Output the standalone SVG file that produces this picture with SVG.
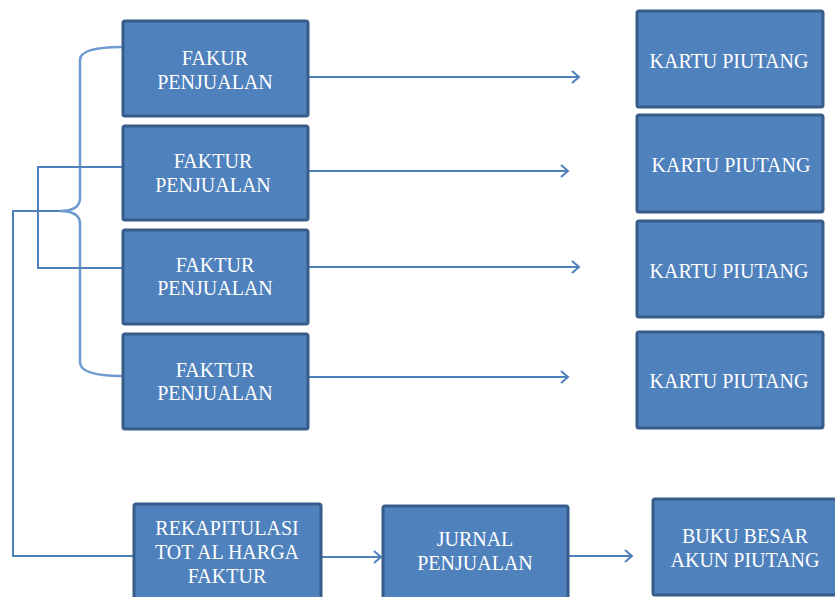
<svg xmlns="http://www.w3.org/2000/svg" width="835" height="597" viewBox="0 0 835 597">
<style>
.box{fill:#4f81bd;stroke:#385d8a;stroke-width:3}
.t{fill:#ffffff;font-family:"Liberation Serif","DejaVu Serif",serif;font-size:20px;text-anchor:middle}
.ln{fill:none;stroke:#4f81bd;stroke-width:2}
.br{fill:none;stroke:#6d9bd1;stroke-width:2.5}
</style>
<defs>
<marker id="ah" markerWidth="12" markerHeight="14" refX="10" refY="7" orient="auto" markerUnits="userSpaceOnUse">
<path d="M3,1 L10,7 L3,13" fill="none" stroke="#4f81bd" stroke-width="2"/>
</marker>
</defs>
<g id="connectors">
<path class="br" d="M122,47 Q80,47 80,60 L80,198 Q80,211 60,211 Q80,211 80,224 L80,362 Q80,376 122,376"/>
<path class="ln" d="M60,211 L13,211 L13,556 L133,556"/>
<path class="ln" d="M122,167 L38,167 L38,268 L122,268"/>
<line class="ln" x1="309" y1="77" x2="579" y2="77" marker-end="url(#ah)"/>
<line class="ln" x1="309" y1="171" x2="568" y2="171" marker-end="url(#ah)"/>
<line class="ln" x1="309" y1="267" x2="579" y2="267" marker-end="url(#ah)"/>
<line class="ln" x1="309" y1="377" x2="568" y2="377" marker-end="url(#ah)"/>
<line class="ln" x1="322" y1="557" x2="381" y2="557" marker-end="url(#ah)"/>
<line class="ln" x1="569" y1="556" x2="632" y2="556" marker-end="url(#ah)"/>
</g>
<g id="fp1"><rect class="box" x="123" y="21" width="185" height="95" rx="2"/><text class="t" x="215" y="65">FAKUR</text><text class="t" x="215" y="89">PENJUALAN</text></g>
<g id="fp2"><rect class="box" x="123" y="126" width="185" height="94" rx="2"/><text class="t" x="213" y="168">FAKTUR</text><text class="t" x="213" y="192">PENJUALAN</text></g>
<g id="fp3"><rect class="box" x="123" y="230" width="185" height="94" rx="2"/><text class="t" x="215" y="272">FAKTUR</text><text class="t" x="215" y="295">PENJUALAN</text></g>
<g id="fp4"><rect class="box" x="123" y="334" width="185" height="95" rx="2"/><text class="t" x="215" y="377">FAKTUR</text><text class="t" x="215" y="400">PENJUALAN</text></g>
<g id="kp1"><rect class="box" x="637" y="11" width="186" height="96" rx="2"/><text class="t" x="729" y="68">KARTU PIUTANG</text></g>
<g id="kp2"><rect class="box" x="637" y="115" width="186" height="97" rx="2"/><text class="t" x="731" y="172">KARTU PIUTANG</text></g>
<g id="kp3"><rect class="box" x="637" y="221" width="186" height="96" rx="2"/><text class="t" x="729" y="278">KARTU PIUTANG</text></g>
<g id="kp4"><rect class="box" x="637" y="332" width="186" height="96" rx="2"/><text class="t" x="729" y="388">KARTU PIUTANG</text></g>
<g id="rekap"><rect class="box" x="134" y="504" width="187" height="100" rx="2"/><text class="t" x="227" y="535">REKAPITULASI</text><text class="t" x="227" y="559">TOT AL HARGA</text><text class="t" x="227" y="583">FAKTUR</text></g>
<g id="jurnal"><rect class="box" x="383" y="506" width="185" height="100" rx="2"/><text class="t" x="475" y="546">JURNAL</text><text class="t" x="475" y="570">PENJUALAN</text></g>
<g id="buku"><rect class="box" x="653" y="499" width="187" height="96" rx="2"/><text class="t" x="745" y="543">BUKU BESAR</text><text class="t" x="745" y="567">AKUN PIUTANG</text></g>
</svg>
